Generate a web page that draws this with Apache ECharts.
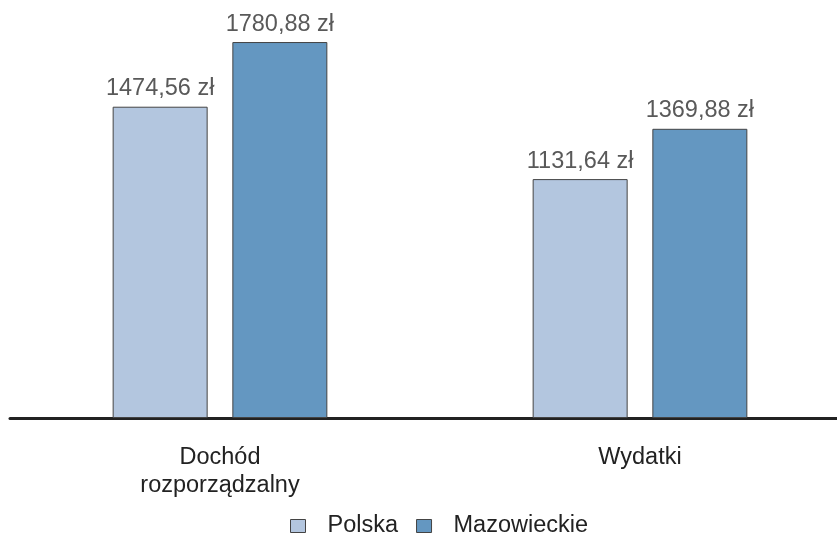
<!DOCTYPE html>
<html>
<head>
    <meta charset="utf-8">
</head>
<body style="margin:0">
<div id="main" style="width: 837px;height:535px;"></div>
<script src="https://cdn.jsdelivr.net/npm/echarts@6/dist/echarts.min.js"></script>
<script type="text/javascript">
    var categories = ['Dochód\nrozporządzalny', 'Wydatki'];
    var polska = [1474.56, 1131.64];
    var mazowieckie = [1780.88, 1369.88];
    var seriesNames = ['Polska', 'Mazowieckie'];

    function fmt(p) {
        return p.value.toFixed(2).replace('.', ',') + ' zł';
    }

    var labelStyle = {
        show: true,
        position: 'top',
        distance: 6,
        formatter: fmt,
        color: '#595959',
        fontSize: 23.5,
        fontFamily: 'Liberation Sans'
    };

    var option = {
        animation: false,
        textStyle: { fontFamily: 'Liberation Sans' },
        grid: {
            left: 10,
            width: 840,
            top: 38,
            bottom: 117,
            outerBoundsMode: 'none',
            containLabel: false
        },
        legend: {
            top: 514,
            left: 290,
            padding: 0,
            icon: 'rect',
            itemWidth: 15,
            itemHeight: 13,
            itemGap: 18,
            itemStyle: { borderColor: '#444', borderWidth: 1 },
            textStyle: { fontSize: 23.5, color: '#222', padding: [0, 0, 0, 17] },
            data: seriesNames
        },
        xAxis: {
            type: 'category',
            data: categories,
            axisLine: { lineStyle: { color: '#222', width: 3 } },
            axisTick: { show: false },
            axisLabel: {
                fontSize: 23.5,
                color: '#222',
                margin: 26,
                lineHeight: 28
            }
        },
        yAxis: {
            type: 'value',
            min: 0,
            max: 1800,
            show: false
        },
        series: [
            {
                name: seriesNames[0],
                type: 'bar',
                barWidth: 95,
                barGap: '26%',
                data: polska,
                itemStyle: { color: '#b3c6df', borderColor: '#444', borderWidth: 1 },
                label: labelStyle
            },
            {
                name: seriesNames[1],
                type: 'bar',
                barWidth: 95,
                data: mazowieckie,
                itemStyle: { color: '#6497c1', borderColor: '#444', borderWidth: 1 },
                label: labelStyle
            }
        ]
    };
    var myChart = echarts.init(document.getElementById('main'));
    myChart.setOption(option);
</script>
</body>
</html>
